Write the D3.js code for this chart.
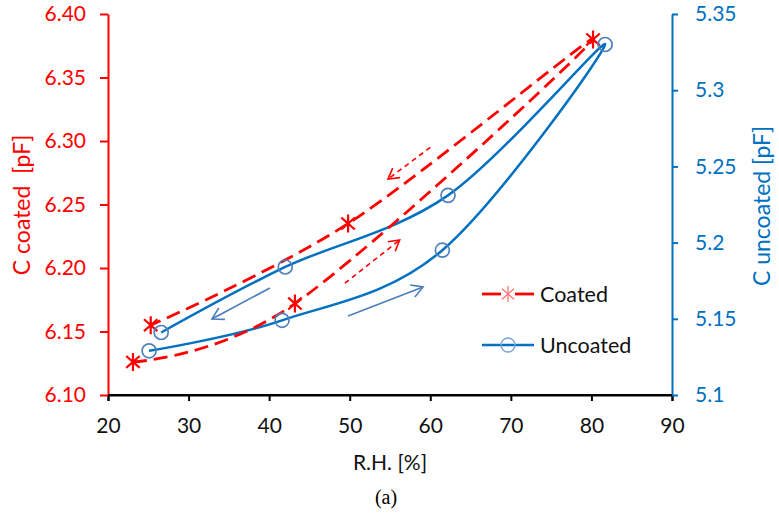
<!DOCTYPE html>
<html>
<head>
<meta charset="utf-8">
<script src="https://cdn.jsdelivr.net/npm/d3@7"></script>
<style>
  html, body { margin: 0; padding: 0; background: #fff; }
  svg { display: block; }
  text { font-family: Lato, "Noto Sans", sans-serif; }
</style>
</head>
<body>
<svg id="chart" width="779" height="517"></svg>
<script>
// Relative humidity (%) for each measurement, in the order it was taken (up then down)
const coatedRH = [23.1, 43.2, 80.2, 49.8, 25.3];
const coatedC  = [6.126, 6.172, 6.380, 6.235, 6.155];   // pF, left axis

const uncoatedRH = [25.1, 41.6, 61.5, 81.7, 62.2, 42.0, 26.6];
const uncoatedC  = [5.129, 5.149, 5.195, 5.330, 5.231, 5.184, 5.141]; // pF, right axis

const xTicks = [20, 30, 40, 50, 60, 70, 80, 90];
const leftTicks = [6.10, 6.15, 6.20, 6.25, 6.30, 6.35, 6.40];
const rightTicks = [5.10, 5.15, 5.20, 5.25, 5.30, 5.35];

// Direction arrows, given in data units: [rh0, c0, rh1, c1]
const coatedArrows = [[49.4, 6.188, 56.2, 6.222], [60.0, 6.295, 54.75, 6.270]];
const uncoatedArrows = [[49.8, 5.1518, 59.1, 5.1709], [40.1, 5.1702, 32.9, 5.1499]];

const RED = "#ff0000", BLUE = "#0070c0", ARROW_BLUE = "#4a7ebb", MARK_BLUE = "#4f81bd";
const FS = 21;

const svg = d3.select("#chart");
const L = 108, R = 672, T = 14, B = 395;

const x = d3.scaleLinear().domain([20, 90]).range([L, R]);
const yL = d3.scaleLinear().domain([6.10, 6.40]).range([B, T]);
const yR = d3.scaleLinear().domain([5.10, 5.35]).range([B, T]);

// Axes
const xAxis = svg.append("g").attr("transform", `translate(0,${B})`)
  .call(d3.axisBottom(x).tickValues(xTicks).tickSize(6).tickPadding(17).tickFormat(d3.format("d")));
xAxis.select(".domain").attr("stroke", "#000").attr("stroke-width", 2);
xAxis.selectAll(".tick line").attr("stroke", "#000").attr("stroke-width", 2);
xAxis.selectAll(".tick text").attr("fill", "#111").attr("font-size", FS).attr("font-family", "Lato");

const lAxis = svg.append("g").attr("transform", `translate(${L},0)`)
  .call(d3.axisLeft(yL).tickValues(leftTicks).tickSize(8).tickSizeOuter(0).tickPadding(14).tickFormat(d3.format(".2f")));
lAxis.select(".domain").attr("stroke", RED).attr("stroke-width", 2);
lAxis.selectAll(".tick line").attr("stroke", RED).attr("stroke-width", 2);
lAxis.selectAll(".tick text").attr("fill", RED).attr("font-size", FS).attr("font-family", "Lato");

const rAxis = svg.append("g").attr("transform", `translate(${R},0)`)
  .call(d3.axisRight(yR).tickValues(rightTicks).tickSize(6).tickSizeOuter(0).tickPadding(17).tickFormat(d => String(+d.toFixed(2))));
rAxis.select(".domain").attr("stroke", BLUE).attr("stroke-width", 2);
rAxis.selectAll(".tick line").attr("stroke", BLUE).attr("stroke-width", 2);
rAxis.selectAll(".tick text").attr("fill", BLUE).attr("font-size", FS).attr("font-family", "Lato");

// Bottom axis redrawn over the left/right domains so the corner meets cleanly
svg.append("line").attr("x1", L).attr("x2", R).attr("y1", B).attr("y2", B)
  .attr("stroke", "#000").attr("stroke-width", 2);

// Axis titles
svg.append("text").attr("transform", "translate(30,205) rotate(-90)")
  .attr("text-anchor", "middle").attr("fill", RED).attr("font-size", 23)
  .attr("xml:space", "preserve").text("C coated  [pF]");
svg.append("text").attr("transform", "translate(770,206) rotate(-90)")
  .attr("text-anchor", "middle").attr("fill", BLUE).attr("font-size", 23)
  .text("C uncoated [pF]");
svg.append("text").attr("x", 390).attr("y", 470).attr("text-anchor", "middle")
  .attr("fill", "#111").attr("font-size", FS).text("R.H. [%]");
svg.append("text").attr("x", 386).attr("y", 504).attr("text-anchor", "middle")
  .attr("fill", "#000").attr("font-size", 20).style("font-family", "'Liberation Serif', serif").text("(a)");

// Arrow helper (open chevron head)
function arrow(g, x0, y0, x1, y1, color, width, dash, head) {
  g.append("line").attr("x1", x0).attr("y1", y0).attr("x2", x1).attr("y2", y1)
    .attr("stroke", color).attr("stroke-width", width).attr("stroke-dasharray", dash || null);
  const a = Math.atan2(y1 - y0, x1 - x0);
  const spread = Math.PI / 6;
  const pts = [[x1 - head * Math.cos(a - spread), y1 - head * Math.sin(a - spread)], [x1, y1],
               [x1 - head * Math.cos(a + spread), y1 - head * Math.sin(a + spread)]];
  g.append("path").attr("d", d3.line()(pts)).attr("fill", "none")
    .attr("stroke", color).attr("stroke-width", width).attr("stroke-linejoin", "miter");
}

const arrows = svg.append("g");
coatedArrows.forEach(a => arrow(arrows, x(a[0]), yL(a[1]), x(a[2]), yL(a[3]), RED, 1.6, "5,4", 12));
uncoatedArrows.forEach(a => arrow(arrows, x(a[0]), yR(a[1]), x(a[2]), yR(a[3]), ARROW_BLUE, 1.6, null, 13));

// Smoothed curves
const curve = d3.curveCardinal.tension(0);
const coatedPts = coatedRH.map((r, i) => [x(r), yL(coatedC[i])]);
const uncoatedPts = uncoatedRH.map((r, i) => [x(r), yR(uncoatedC[i])]);

svg.append("path").attr("d", d3.line().curve(curve)(uncoatedPts))
  .attr("fill", "none").attr("stroke", BLUE).attr("stroke-width", 2.5);
svg.append("path").attr("d", d3.line().curve(curve)(coatedPts))
  .attr("fill", "none").attr("stroke", RED).attr("stroke-width", 2.8).attr("stroke-dasharray", "14,7");

// Markers
function star(g, cx, cy, r, color, w) {
  const dx = r * 0.75, dy = r * 0.66;
  g.append("path")
    .attr("d", `M${cx},${cy - r}L${cx},${cy + r}M${cx - dx},${cy - dy}L${cx + dx},${cy + dy}M${cx - dx},${cy + dy}L${cx + dx},${cy - dy}`)
    .attr("stroke", color).attr("stroke-width", w).attr("fill", "none");
}
const marks = svg.append("g");
coatedPts.forEach(p => star(marks, p[0], p[1], 9, RED, 2.2));
uncoatedPts.forEach(p => marks.append("circle").attr("cx", p[0]).attr("cy", p[1]).attr("r", 7)
  .attr("fill", "none").attr("stroke", MARK_BLUE).attr("stroke-width", 1.7));

// Legend
const lg = svg.append("g");
lg.append("line").attr("x1", 482).attr("x2", 501).attr("y1", 294).attr("y2", 294)
  .attr("stroke", RED).attr("stroke-width", 2.8);
lg.append("line").attr("x1", 515).attr("x2", 534).attr("y1", 294).attr("y2", 294)
  .attr("stroke", RED).attr("stroke-width", 2.8);
star(lg, 508, 294, 8, "#ff6f6f", 1.2);
lg.append("text").attr("x", 540).attr("y", 302).attr("fill", "#111").attr("font-size", 21.5).text("Coated");

lg.append("line").attr("x1", 482).attr("x2", 534).attr("y1", 345).attr("y2", 345)
  .attr("stroke", BLUE).attr("stroke-width", 2.5);
lg.append("circle").attr("cx", 508).attr("cy", 345).attr("r", 7).attr("fill", "none")
  .attr("stroke", "#7aa5d6").attr("stroke-width", 1.4);
lg.append("text").attr("x", 540).attr("y", 353).attr("fill", "#111").attr("font-size", 21.5).text("Uncoated");
</script>
</body>
</html>
